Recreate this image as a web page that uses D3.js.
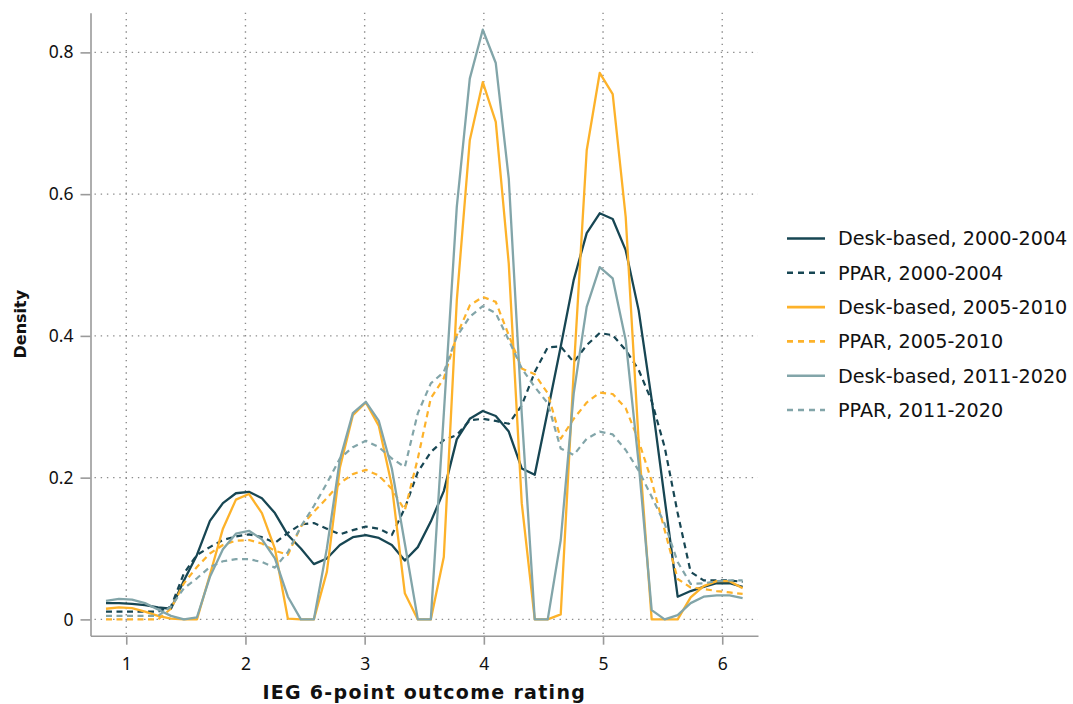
<!DOCTYPE html>
<head>
<style>
body { margin: 0; background: #fff; }
svg { font-family: "Noto Sans", sans-serif; }
</style>
<script src="https://d3js.org/d3.v7.min.js"></script>
</head>
<body>
<svg id="chart" width="1073" height="704"></svg>
<script>

// kdensity evaluation grid (IEG rating)
var gridX = [0.830, 0.939, 1.048, 1.157, 1.266, 1.375, 1.484, 1.593, 1.702, 1.811,
             1.920, 2.029, 2.138, 2.247, 2.356, 2.465, 2.574, 2.683, 2.792, 2.901,
             3.010, 3.119, 3.228, 3.337, 3.446, 3.555, 3.664, 3.773, 3.882, 3.991,
             4.100, 4.209, 4.318, 4.427, 4.536, 4.645, 4.754, 4.863, 4.972, 5.081,
             5.190, 5.299, 5.408, 5.517, 5.626, 5.735, 5.844, 5.953, 6.062, 6.171];

var desk2000 = [0.023, 0.023, 0.022, 0.020, 0.017, 0.015, 0.055, 0.091, 0.139, 0.164,
                0.178, 0.180, 0.171, 0.150, 0.119, 0.100, 0.078, 0.086, 0.105, 0.116,
                0.119, 0.115, 0.105, 0.083, 0.102, 0.138, 0.181, 0.254, 0.283, 0.294,
                0.287, 0.265, 0.213, 0.204, 0.294, 0.385, 0.479, 0.545, 0.573, 0.565,
                0.521, 0.436, 0.310, 0.170, 0.032, 0.040, 0.046, 0.051, 0.051, 0.046];

var ppar2000 = [0.011, 0.011, 0.011, 0.011, 0.011, 0.018, 0.065, 0.091, 0.102, 0.112,
                0.117, 0.120, 0.116, 0.108, 0.122, 0.134, 0.136, 0.128, 0.120, 0.126,
                0.131, 0.128, 0.119, 0.157, 0.208, 0.236, 0.253, 0.260, 0.281, 0.283,
                0.280, 0.276, 0.302, 0.349, 0.384, 0.385, 0.363, 0.387, 0.404, 0.401,
                0.380, 0.352, 0.308, 0.243, 0.150, 0.067, 0.055, 0.055, 0.055, 0.053];

var desk2005 = [0.015, 0.017, 0.016, 0.011, 0.005, 0.001, 0.000, 0.000, 0.063, 0.128,
                0.169, 0.177, 0.150, 0.100, 0.001, 0.000, 0.000, 0.067, 0.214, 0.288,
                0.306, 0.273, 0.189, 0.037, 0.000, 0.000, 0.088, 0.450, 0.676, 0.758,
                0.702, 0.502, 0.164, 0.000, 0.000, 0.007, 0.350, 0.662, 0.771, 0.741,
                0.568, 0.250, 0.000, 0.000, 0.000, 0.031, 0.047, 0.054, 0.054, 0.044];

var ppar2005 = [0.000, 0.000, 0.000, 0.000, 0.000, 0.015, 0.051, 0.074, 0.093, 0.105,
                0.111, 0.112, 0.107, 0.097, 0.091, 0.131, 0.152, 0.171, 0.192, 0.205,
                0.211, 0.203, 0.184, 0.154, 0.227, 0.312, 0.340, 0.401, 0.443, 0.455,
                0.448, 0.401, 0.354, 0.346, 0.319, 0.255, 0.283, 0.306, 0.320, 0.318,
                0.298, 0.252, 0.195, 0.126, 0.057, 0.045, 0.043, 0.040, 0.038, 0.036];

var desk2011 = [0.026, 0.029, 0.028, 0.023, 0.014, 0.005, 0.000, 0.003, 0.060, 0.099,
                0.121, 0.125, 0.113, 0.086, 0.032, 0.000, 0.000, 0.100, 0.225, 0.291,
                0.307, 0.280, 0.213, 0.107, 0.000, 0.000, 0.290, 0.582, 0.763, 0.832,
                0.785, 0.622, 0.290, 0.000, 0.000, 0.112, 0.319, 0.441, 0.497, 0.481,
                0.394, 0.220, 0.013, 0.000, 0.006, 0.023, 0.032, 0.034, 0.034, 0.030];

var ppar2011 = [0.005, 0.005, 0.005, 0.005, 0.005, 0.018, 0.044, 0.058, 0.074, 0.082,
                0.085, 0.085, 0.081, 0.073, 0.095, 0.131, 0.160, 0.192, 0.227, 0.243,
                0.252, 0.243, 0.227, 0.215, 0.291, 0.333, 0.349, 0.399, 0.427, 0.442,
                0.432, 0.394, 0.354, 0.328, 0.305, 0.241, 0.232, 0.255, 0.265, 0.261,
                0.239, 0.210, 0.173, 0.135, 0.081, 0.050, 0.051, 0.054, 0.055, 0.055];

var seriesNames = ["Desk-based, 2000-2004", "PPAR, 2000-2004",
                   "Desk-based, 2005-2010", "PPAR, 2005-2010",
                   "Desk-based, 2011-2020", "PPAR, 2011-2020"];
var seriesValues = [desk2000, ppar2000, desk2005, ppar2005, desk2011, ppar2011];

var xTicks = [1, 2, 3, 4, 5, 6];
var yTicks = [0, 0.2, 0.4, 0.6, 0.8];

var colors = ["#174653", "#174653", "#fdb22a", "#fdb22a", "#82a5a9", "#82a5a9"];
var dashed = [false, true, false, true, false, true];

var plotLeft = 90.5, plotRight = 758, plotTop = 12.7, plotBottom = 635.7;

var svg = d3.select("#chart");

var x = d3.scaleLinear().domain([0.7, 6.3]).range([plotLeft, plotRight]);
var y = d3.scaleLinear().domain([-0.023, 0.856]).range([plotBottom, plotTop]);

// dotted grid
var grid = svg.append("g").attr("class", "grid")
    .attr("stroke", "#8c8c8c")
    .attr("stroke-width", 1.4)
    .attr("stroke-dasharray", "1.4,4.8");

grid.selectAll(".gx").data(xTicks).enter().append("line")
    .attr("x1", function(d) { return x(d); })
    .attr("x2", function(d) { return x(d); })
    .attr("y1", plotTop)
    .attr("y2", plotBottom);

grid.selectAll(".gy").data(yTicks).enter().append("line")
    .attr("x1", plotLeft + 4)
    .attr("x2", plotRight)
    .attr("y1", function(d) { return y(d); })
    .attr("y2", function(d) { return y(d); });

// axes
var xAxis = svg.append("g")
    .attr("transform", "translate(0," + plotBottom + ")")
    .call(d3.axisBottom(x).tickValues(xTicks).tickSize(9).tickSizeOuter(0).tickPadding(13)
        .tickFormat(d3.format("d")));

var yAxis = svg.append("g")
    .attr("transform", "translate(" + plotLeft + ",0)")
    .call(d3.axisLeft(y).tickValues(yTicks).tickSize(10).tickSizeOuter(0).tickPadding(7)
        .tickFormat(function(d) { return d === 0 ? "0" : d3.format(".1f")(d); }));

[xAxis, yAxis].forEach(function(a) {
    a.select(".domain").attr("stroke", "#9a9a9a").attr("stroke-width", 1.6);
    a.selectAll(".tick line").attr("stroke", "#9a9a9a").attr("stroke-width", 1.6);
    a.selectAll(".tick text")
        .attr("fill", "#111")
        .style("font-family", "'Noto Sans', sans-serif")
        .style("font-size", "17.5px");
});

svg.append("text")
    .attr("x", (plotLeft + plotRight) / 2)
    .attr("y", 699)
    .attr("text-anchor", "middle")
    .style("font-family", "'DejaVu Sans', sans-serif")
    .style("font-size", "19px")
    .style("font-weight", "bold")
    .style("letter-spacing", "1.3px")
    .attr("fill", "#111")
    .text("IEG 6-point outcome rating");

svg.append("text")
    .attr("transform", "translate(26," + ((plotTop + plotBottom) / 2) + ") rotate(-90)")
    .attr("text-anchor", "middle")
    .style("font-family", "'DejaVu Sans', sans-serif")
    .style("font-size", "16px")
    .style("font-weight", "bold")
    .attr("fill", "#111")
    .text("Density");

// density lines
var line = d3.line()
    .x(function(d, i) { return x(gridX[i]); })
    .y(function(d) { return y(d); });

svg.append("g").selectAll("path")
    .data(seriesValues)
    .enter().append("path")
    .attr("d", line)
    .attr("fill", "none")
    .attr("stroke", function(d, i) { return colors[i]; })
    .attr("stroke-width", function(d, i) { return dashed[i] ? 2.2 : 2.3; })
    .attr("stroke-dasharray", function(d, i) { return dashed[i] ? "6,4.5" : null; })
    .attr("stroke-linejoin", "round");

// legend
var legend = svg.append("g").attr("transform", "translate(787,238.5)");
var item = legend.selectAll("g").data(seriesNames).enter().append("g")
    .attr("transform", function(d, i) { return "translate(0," + (i * 34.3) + ")"; });

item.append("line")
    .attr("x1", 0).attr("x2", 38)
    .attr("stroke", function(d, i) { return colors[i]; })
    .attr("stroke-width", 2.6)
    .attr("stroke-dasharray", function(d, i) { return dashed[i] ? "6,5" : null; });

item.append("text")
    .attr("x", 51)
    .attr("dy", "0.36em")
    .style("font-family", "'DejaVu Sans', sans-serif")
    .style("font-size", "19.2px")
    .attr("fill", "#111")
    .text(function(d) { return d; });

</script>
</body>
</html>
